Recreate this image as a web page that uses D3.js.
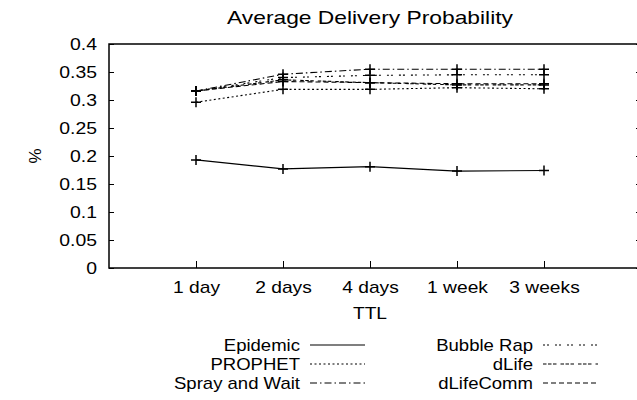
<!DOCTYPE html>
<html>
<head>
<meta charset="utf-8">
<script src="https://cdn.jsdelivr.net/npm/d3@7"></script>
<style>
  body { margin: 0; background: #fff; }
  text { font-family: "Liberation Sans", Arial, Helvetica, sans-serif; fill: #000; }
</style>
</head>
<body>
<svg id="chart" width="637" height="400"></svg>
<script>
// categories on the x axis
const ttlLabels = ["1 day", "2 days", "4 days", "1 week", "3 weeks"];
const yTicks = [0, 0.05, 0.1, 0.15, 0.2, 0.25, 0.3, 0.35, 0.4];

// series values
const epidemic     = [0.193, 0.177, 0.181, 0.173, 0.174];
const prophet      = [0.296, 0.319, 0.319, 0.322, 0.320];
const sprayAndWait = [0.316, 0.346, 0.355, 0.355, 0.355];
const bubbleRap    = [0.316, 0.340, 0.344, 0.345, 0.345];
const dLife        = [0.316, 0.336, 0.331, 0.327, 0.327];
const dLifeComm    = [0.316, 0.333, 0.331, 0.329, 0.329];

const seriesNames = ["Epidemic", "PROPHET", "Spray and Wait", "Bubble Rap", "dLife", "dLifeComm"];
const seriesValues = [epidemic, prophet, sprayAndWait, bubbleRap, dLife, dLifeComm];
const dashes = ["none", "2,2.5", "7,3,1.5,3", "2,2,2,6", "3.5,1.5,3.5,1.5,3.5,4", "5,3"];

// the postscript-ish original has slightly wide lettering
function widen(sel, factor) {
  sel.each(function () {
    const w = this.getComputedTextLength();
    d3.select(this).attr("textLength", w * factor).attr("lengthAdjust", "spacingAndGlyphs");
  });
}

const margin = { top: 44, left: 109 };
const svg = d3.select("#chart");
const width = 641 - margin.left;   // plot runs off the right edge like in the original
const height = 268 - margin.top;
const g = svg.append("g").attr("transform", `translate(${margin.left},${margin.top})`);

const x = d3.scaleLinear().domain([0, 6]).range([0, 522]);
const y = d3.scaleLinear().domain([0, 0.4]).range([height, 0]);

// frame
g.append("rect")
  .attr("x", 0).attr("y", 0)
  .attr("width", width).attr("height", height)
  .attr("fill", "none").attr("stroke", "#000").attr("stroke-width", 1.5);

// y axis, ticks point inside, mirrored on the right
const yAxis = g.append("g")
  .call(d3.axisLeft(y).tickValues(yTicks).tickSize(-5).tickPadding(12).tickFormat(d => d3.format("")(d)));
yAxis.select(".domain").remove();
yAxis.selectAll("text").style("font-size", "17px").call(widen, 1.14);

g.append("g")
  .attr("transform", `translate(${width},0)`)
  .call(d3.axisRight(y).tickValues(yTicks).tickSize(-5).tickFormat(""))
  .select(".domain").remove();

// x axis
const xAxis = g.append("g")
  .attr("transform", `translate(0,${height})`)
  .call(d3.axisBottom(x).tickValues(d3.range(1, 6)).tickSize(-7).tickPadding(13)
    .tickFormat(i => ttlLabels[i - 1]));
xAxis.select(".domain").remove();
xAxis.selectAll("text").style("font-size", "17px").call(widen, 1.13);

// lines and + markers
const line = d3.line().x((d, i) => x(i + 1)).y(d => y(d));
seriesValues.forEach((vals, k) => {
  g.append("path")
    .datum(vals)
    .attr("fill", "none")
    .attr("stroke", "#000")
    .attr("stroke-width", 1.1)
    .attr("stroke-dasharray", dashes[k])
    .attr("d", line);
  g.selectAll(null)
    .data(vals)
    .join("path")
    .attr("d", (d, i) => {
      const cx = x(i + 1), cy = y(d);
      return `M${cx - 5},${cy}H${cx + 5}M${cx},${cy - 5}V${cy + 5}`;
    })
    .attr("stroke", "#000")
    .attr("stroke-width", 1.5);
});

// titles
svg.append("text")
  .attr("x", 370).attr("y", 24)
  .attr("text-anchor", "middle")
  .style("font-size", "19px")
  .text("Average Delivery Probability")
  .call(widen, 1.2);

svg.append("text")
  .attr("x", 370).attr("y", 319)
  .attr("text-anchor", "middle")
  .style("font-size", "17px")
  .text("TTL")
  .call(widen, 1.13);

svg.append("text")
  .attr("transform", "translate(41,156) rotate(-90)")
  .attr("text-anchor", "middle")
  .style("font-size", "17px")
  .text("%");

// legend, two columns
const legend = svg.append("g");
seriesNames.forEach((name, k) => {
  const col = Math.floor(k / 3), row = k % 3;
  const tx = col === 0 ? 300 : 533;
  const ly = 345 + row * 19;
  legend.append("text")
    .attr("x", tx).attr("y", ly + 6)
    .attr("text-anchor", "end")
    .style("font-size", "17px")
    .text(name)
    .call(widen, 1.09);
  legend.append("line")
    .attr("x1", tx + 10).attr("x2", tx + 65)
    .attr("y1", ly).attr("y2", ly)
    .attr("stroke", "#000")
    .attr("stroke-width", 1.1)
    .attr("stroke-dasharray", dashes[k]);
});
</script>
</body>
</html>
